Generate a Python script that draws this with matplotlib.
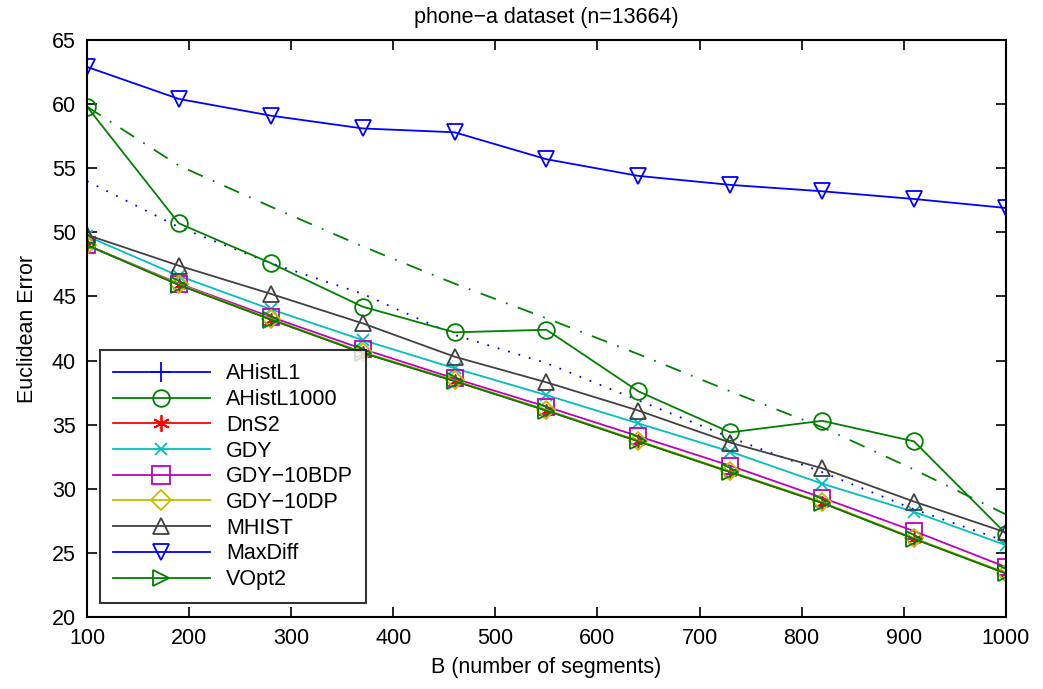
import matplotlib
matplotlib.use("Agg")
import matplotlib.pyplot as plt
from matplotlib.lines import Line2D

plt.rcParams['font.family'] = ['Liberation Sans', 'DejaVu Sans']

B = [100, 190, 280, 370, 460, 550, 640, 730, 820, 910, 1000]

ahistl1 = [54.0, 50.4, 47.6, 45.2, 42.0, 39.8, 36.9, 34.0, 31.3, 28.4, 25.9]
ahistl1000 = [59.8, 50.7, 47.6, 44.2, 42.2, 42.4, 37.6, 34.4, 35.3, 33.7, 26.5]
ahistl1000_trend = [59.8, 55.2, 52.0, 48.9, 46.0, 43.3, 40.5, 37.6, 34.8, 31.5, 28.0]
dns2 = [49.0, 45.9, 43.2, 40.6, 38.4, 36.1, 33.7, 31.3, 28.9, 26.1, 23.4]
gdy = [49.7, 46.6, 44.0, 41.6, 39.4, 37.3, 35.1, 32.9, 30.4, 28.2, 25.6]
gdy10bdp = [49.0, 46.0, 43.4, 40.9, 38.6, 36.4, 34.1, 31.8, 29.3, 26.7, 23.9]
gdy10dp = [49.0, 45.95, 43.25, 40.65, 38.45, 36.15, 33.75, 31.35, 28.95, 26.15, 23.45]
mhist = [49.8, 47.4, 45.2, 42.9, 40.3, 38.3, 36.1, 33.6, 31.6, 29.0, 26.6]
maxdiff = [62.9, 60.4, 59.1, 58.1, 57.8, 55.7, 54.4, 53.7, 53.2, 52.6, 51.9]
vopt2 = [49.0, 45.9, 43.2, 40.6, 38.4, 36.1, 33.7, 31.3, 28.9, 26.1, 23.4]

names = ['AHistL1', 'AHistL1000', 'DnS2', 'GDY', 'GDY\u221210BDP', 'GDY\u221210DP',
         'MHIST', 'MaxDiff', 'VOpt2']

blue = (0, 0, 1)
green = (0, 0.5, 0)
red = (1, 0, 0)
cyan = (0, 0.75, 0.75)
magenta = (0.75, 0, 0.75)
yellow = (0.75, 0.75, 0)
gray = (0.25, 0.25, 0.25)

star = (6, 2, 0)

fig = plt.figure(figsize=(10.43, 6.89), dpi=100)
ax = fig.add_axes([0.0834, 0.1045, 0.881, 0.8375])

lw = 1.3
ax.plot(B, ahistl1, linestyle=(0, (1, 5)), color=blue, linewidth=1.3)
ax.plot(B, ahistl1000_trend, linestyle=(0, (9, 6, 1, 6)), color=green, linewidth=1.3)
ax.plot(B, ahistl1000, '-', color=green, lw=lw, marker='o', ms=12, mfc='none', mew=1.3)
ax.plot(B, dns2, '-', color=red, lw=lw, marker=star, ms=10, mew=1.2)
ax.plot(B, gdy, '-', color=cyan, lw=lw, marker='x', ms=9, mew=1.3)
ax.plot(B, gdy10bdp, '-', color=magenta, lw=lw, marker='s', ms=12, mfc='none', mew=1.3)
ax.plot(B, gdy10dp, '-', color=yellow, lw=lw, marker='D', ms=9, mfc='none', mew=1.3)
ax.plot(B, mhist, '-', color=gray, lw=lw, marker='^', ms=12, mfc='none', mew=1.3)
ax.plot(B, maxdiff, '-', color=blue, lw=lw, marker='v', ms=12, mfc='none', mew=1.3)
ax.plot(B, vopt2, '-', color=green, lw=lw, marker='>', ms=12, mfc='none', mew=1.3)

handles = [
    Line2D([], [], color=blue, lw=lw, marker='+', ms=14, mew=1.3),
    Line2D([], [], color=green, lw=lw, marker='o', ms=12, mfc='none', mew=1.3),
    Line2D([], [], color=red, lw=lw, marker=star, ms=12, mew=1.3),
    Line2D([], [], color=cyan, lw=lw, marker='x', ms=9, mew=1.3),
    Line2D([], [], color=magenta, lw=lw, marker='s', ms=13, mfc='none', mew=1.3),
    Line2D([], [], color=yellow, lw=lw, marker='D', ms=10, mfc='none', mew=1.3),
    Line2D([], [], color=gray, lw=lw, marker='^', ms=12, mfc='none', mew=1.3),
    Line2D([], [], color=blue, lw=lw, marker='v', ms=12, mfc='none', mew=1.3),
    Line2D([], [], color=green, lw=lw, marker='>', ms=12, mfc='none', mew=1.3),
]
leg = ax.legend(handles, names, loc='lower left', bbox_to_anchor=(0.014, 0.024),
                fontsize=15.5, frameon=True, fancybox=False, edgecolor='black',
                handlelength=4.5, handletextpad=0.75, labelspacing=0.22,
                borderpad=0.6, borderaxespad=0)
leg.get_frame().set_linewidth(1.5)

ax.set_xlim(100, 1000)
ax.set_ylim(20, 65)
ax.set_xticks(range(100, 1001, 100))
ax.set_yticks(range(20, 66, 5))
ax.tick_params(direction='in', top=True, right=True, length=7, width=1.2,
               labelsize=15.5)
ax.tick_params(axis='x', pad=8)
ax.tick_params(axis='y', pad=8)
for s in ax.spines.values():
    s.set_linewidth(1.5)

ax.set_xlabel('B (number of segments)', fontsize=15.5, labelpad=6)
ax.set_ylabel('Euclidean Error', fontsize=15.5, labelpad=10)
ax.set_title('phone\u2212a dataset (n=13664)', fontsize=15.5, pad=12)

fig.savefig('out.png', dpi=100)
